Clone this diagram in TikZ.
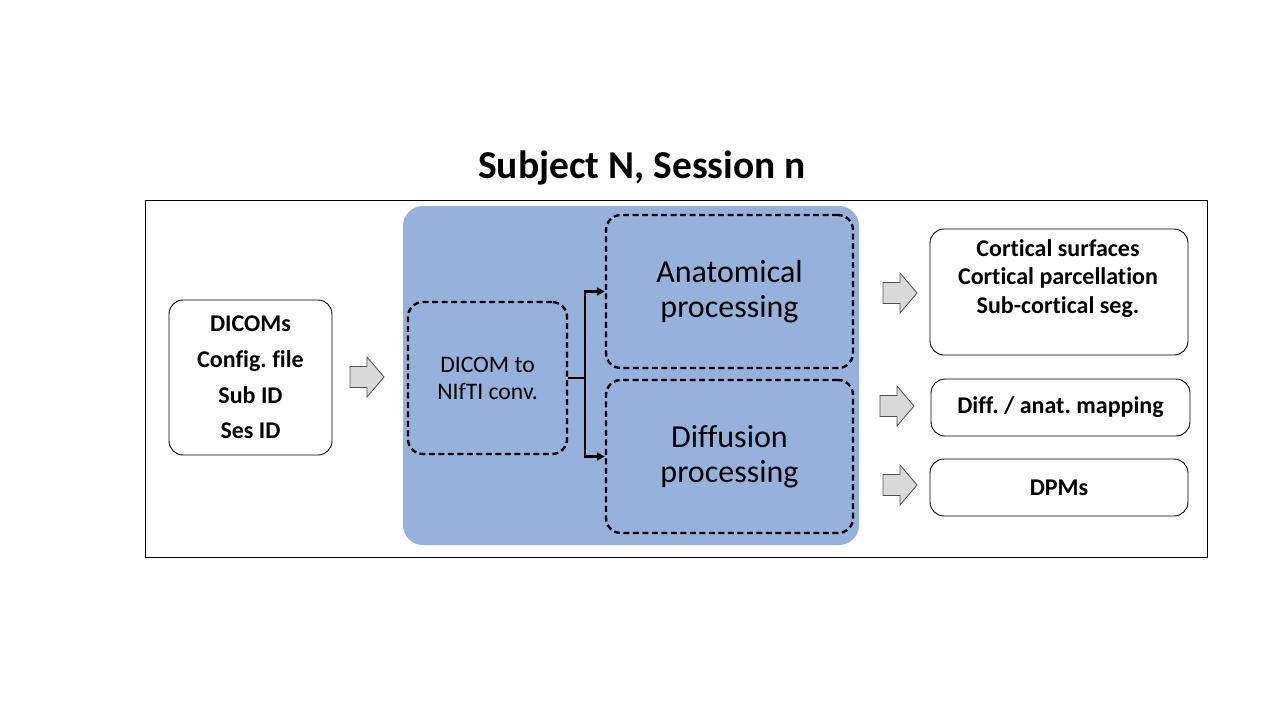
\documentclass[tikz,border=0pt]{standalone}
\usepackage{fontspec}
\setmainfont[Ligatures=NoCommon]{Carlito}
\usetikzlibrary{arrows.meta}
\definecolor{procblue}{RGB}{149,177,220}
\definecolor{arrowgray}{RGB}{217,217,217}
\definecolor{arrowline}{RGB}{80,80,80}
\newcommand\blockarrow[2]{%
  \draw[barrow] (#1,#2) ++(0,-10.5) -- ++(17,0) -- ++(0,-9.5) -- ++(17,20) -- ++(-17,20) -- ++(0,-9.5) -- ++(-17,0) -- cycle;}
\begin{document}
\frenchspacing
\begin{tikzpicture}[x=1pt,y=-1pt,
  solidbox/.style={draw, line width=0.9pt, rounded corners=14pt, align=center, inner sep=0pt},
  dashbox/.style={draw, line width=2.4pt, dash pattern=on 6pt off 3.5pt, rounded corners=15pt, align=center, inner sep=0pt},
  boldtext/.style={font=\fontsize{24}{28.5}\selectfont\bfseries, align=center},
  conn/.style={line width=2.6pt},
  barrow/.style={draw=arrowline, fill=arrowgray, line width=0.8pt, line join=miter}]
\useasboundingbox (0,0) rectangle (1280,720);
\fill[white] (0,0) rectangle (1280,720);

\node[font=\fontsize{39.5}{44}\selectfont\bfseries] (title) at (642,168) {Subject N, Session n};

\node[draw, line width=1pt, minimum width=1062pt, minimum height=357pt, inner sep=0pt] (frame) at (676,378.5) {};

\node[fill=procblue, rounded corners=20pt, minimum width=456pt, minimum height=339pt, inner sep=0pt] (bg) at (631,375.5) {};

\node[solidbox, minimum width=163pt, minimum height=155pt, font=\fontsize{24}{35.7}\selectfont\bfseries] (in) at (250.5,377.5) {DICOMs\\Config. file\\Sub ID\\Ses ID};

\node[dashbox, minimum width=159pt, minimum height=152pt, font=\fontsize{23.7}{27}\selectfont] (dicom) at (487.5,378) {DICOM to\\NIfTI conv.};

\node[dashbox, minimum width=247pt, minimum height=153pt, font=\fontsize{32}{35}\selectfont] (anat) at (729.5,291.5) {Anatomical\\processing};
\node[dashbox, minimum width=247pt, minimum height=153pt, font=\fontsize{32}{35}\selectfont] (diff) at (729.5,456.5) {Diffusion\\processing};

\coordinate (j) at (585,378);
\draw[conn] (dicom.east) -- (j);
\draw[conn, -{Triangle[length=8pt,width=8pt]}] (j) |- (anat.west);
\draw[conn, -{Triangle[length=8pt,width=8pt]}] (j) |- (diff.west);

\node[solidbox, minimum width=258pt, minimum height=126pt] (out1) at (1059,292) {};
\node[boldtext] (out1txt) at (1058,278.5) {Cortical surfaces\\Cortical parcellation\\Sub-cortical seg.};
\node[solidbox, boldtext, minimum width=259pt, minimum height=57pt] (out2) at (1060.5,407.5) {Diff. / anat. mapping};
\node[solidbox, boldtext, minimum width=258pt, minimum height=57pt] (out3) at (1059,487.5) {DPMs};

\blockarrow{350}{377}
\blockarrow{883}{293}
\blockarrow{880}{406}
\blockarrow{883}{485}
\end{tikzpicture}
\end{document}
